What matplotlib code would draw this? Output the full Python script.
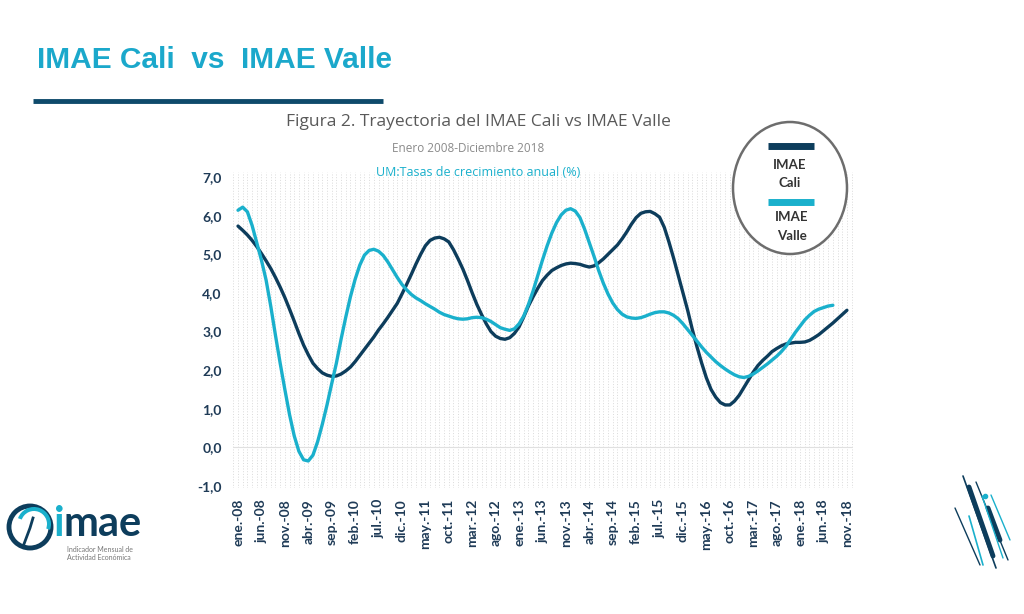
import matplotlib
matplotlib.use("Agg")
import matplotlib.pyplot as plt
from matplotlib.patches import Ellipse, Circle, Wedge
import numpy as np

# Monthly series, ene-2008 .. nov-2018
cali = [5.73, 5.62, 5.50, 5.36, 5.20, 5.02, 4.83, 4.63, 4.40, 4.15,
        3.88, 3.58, 3.27, 2.95, 2.65, 2.40, 2.18, 2.04, 1.93, 1.87,
        1.84, 1.85, 1.90, 1.98, 2.08, 2.22, 2.38, 2.54, 2.70, 2.86,
        3.04, 3.20, 3.37, 3.55, 3.73, 3.97, 4.22, 4.48, 4.75, 5.00,
        5.22, 5.36, 5.42, 5.44, 5.40, 5.32, 5.12, 4.88, 4.62, 4.32,
        4.00, 3.70, 3.44, 3.20, 3.00, 2.88, 2.82, 2.80, 2.84, 2.95,
        3.12, 3.38, 3.66, 3.90, 4.12, 4.32, 4.46, 4.58, 4.65, 4.71,
        4.75, 4.77, 4.76, 4.74, 4.70, 4.67, 4.70, 4.78, 4.88, 5.00,
        5.12, 5.24, 5.40, 5.58, 5.78, 5.95, 6.06, 6.10, 6.11, 6.05,
        5.96, 5.70, 5.32, 4.90, 4.45, 4.00, 3.55, 3.05, 2.60, 2.18,
        1.80, 1.50, 1.30, 1.16, 1.10, 1.10, 1.20, 1.35, 1.55, 1.75,
        1.95, 2.12, 2.25, 2.36, 2.48, 2.56, 2.63, 2.68, 2.70, 2.72,
        2.72, 2.73, 2.77, 2.84, 2.92, 3.02, 3.12, 3.22, 3.33, 3.44,
        3.55]

valle = [6.14, 6.22, 6.10, 5.75, 5.30, 4.85, 4.33, 3.65, 2.90, 2.18,
         1.50, 0.85, 0.30, -0.10, -0.32, -0.35, -0.20, 0.15, 0.60, 1.10,
         1.65, 2.18, 2.80, 3.37, 3.90, 4.35, 4.72, 4.98, 5.10, 5.13,
         5.08, 4.97, 4.80, 4.60, 4.40, 4.22, 4.08, 3.96, 3.87, 3.80,
         3.72, 3.65, 3.58, 3.50, 3.44, 3.40, 3.36, 3.33, 3.32, 3.33,
         3.36, 3.37, 3.36, 3.32, 3.26, 3.18, 3.10, 3.06, 3.03, 3.07,
         3.20, 3.40, 3.70, 4.05, 4.45, 4.85, 5.22, 5.55, 5.82, 6.02,
         6.14, 6.18, 6.12, 5.95, 5.65, 5.30, 4.95, 4.58, 4.25, 3.97,
         3.74, 3.57, 3.45, 3.38, 3.35, 3.34, 3.36, 3.40, 3.45, 3.49,
         3.51, 3.51, 3.48, 3.42, 3.33, 3.20, 3.05, 2.90, 2.75, 2.60,
         2.46, 2.34, 2.22, 2.12, 2.03, 1.95, 1.88, 1.83, 1.81, 1.84,
         1.90, 1.98, 2.07, 2.16, 2.26, 2.36, 2.48, 2.62, 2.80, 2.98,
         3.14, 3.30, 3.42, 3.52, 3.58, 3.62, 3.66, 3.68]

tick_labels = ["ene.-08", "jun.-08", "nov.-08", "abr.-09", "sep.-09", "feb.-10",
               "jul.-10", "dic.-10", "may.-11", "oct.-11", "mar.-12", "ago.-12",
               "ene.-13", "jun.-13", "nov.-13", "abr.-14", "sep.-14", "feb.-15",
               "jul.-15", "dic.-15", "may.-16", "oct.-16", "mar.-17", "ago.-17",
               "ene.-18", "jun.-18", "nov.-18"]
y_ticks = [-1, 0, 1, 2, 3, 4, 5, 6, 7]

NAVY = "#0d3d5c"
CYAN = "#1ab0cc"
LABEL = "#1f3b57"

fig = plt.figure(figsize=(10.24, 6.14), dpi=100)
fig.patch.set_facecolor("white")

# main chart
ax = fig.add_axes([233 / 1024, 1 - 488 / 614, 620 / 1024, 316 / 614])
ax.set_zorder(2)
x_c = np.arange(len(cali))
x_v = np.arange(len(valle))
ax.plot(x_c, cali, color=NAVY, lw=2.4, solid_capstyle="round", zorder=3)
ax.plot(x_v, valle, color=CYAN, lw=2.4, solid_capstyle="round", zorder=4)

ax.set_xlim(-1.07, 131.3)
ax.set_ylim(-1.05, 7.13)

# dotted background grid
for m in range(-1, 132):
    ax.axvline(m, color="#dadada", lw=0.7, ls=(0, (1, 1.8)), zorder=0)
ax.axhline(0, color="#e0e0e0", lw=0.8, zorder=1)

ax.set_xticks(np.arange(0, len(cali), 5))
ax.set_xticklabels(tick_labels, rotation=90, fontsize=10, fontweight="bold",
                   color=LABEL, family="Lato")
ax.set_yticks(y_ticks)
ax.set_yticklabels([f"{v:.1f}".replace(".", ",") for v in y_ticks], fontsize=10,
                   fontweight="bold", color=LABEL, family="Lato")
ax.tick_params(length=0, pad=8)
for s in ax.spines.values():
    s.set_visible(False)

# overlay for decorations, in pixel coordinates
ov = fig.add_axes([0, 0, 1, 1])
ov.set_xlim(0, 1024)
ov.set_ylim(614, 0)
ov.axis("off")
ov.set_zorder(3)
ov.patch.set_alpha(0)

ov.text(37, 60, "IMAE Cali  vs  IMAE Valle", fontsize=21.5, fontweight="bold",
        color="#1ba8cb", family="Liberation Sans", va="center", ha="left")
ov.plot([33, 383], [101, 101], color="#0e4a6b", lw=3.5, solid_capstyle="butt")

ov.text(478, 122, "Figura 2. Trayectoria del IMAE Cali vs IMAE Valle", fontsize=12.5,
        color="#595959", family="Open Sans", ha="center", va="center")
ov.text(468, 148, "Enero 2008-Diciembre 2018", fontsize=8.5, color="#8a8a8a",
        family="Open Sans", ha="center", va="center")
ov.text(478, 172, "UM:Tasas de crecimiento anual (%)", fontsize=9, color=CYAN,
        family="Open Sans", ha="center", va="center")

# legend in an ellipse
ov.add_patch(Ellipse((790, 188), 114, 132, facecolor="white", edgecolor="#6d6d6d", lw=1.8))
ov.plot([768, 814], [145.5, 145.5], color=NAVY, lw=5, solid_capstyle="butt")
ov.text(790, 165, "IMAE", fontsize=9.5, fontweight="bold", color="#333333",
        family="Lato", ha="center", va="center")
ov.text(790, 183, "Cali", fontsize=9.5, fontweight="bold", color="#333333",
        family="Lato", ha="center", va="center")
ov.plot([768, 814], [201.5, 201.5], color=CYAN, lw=5, solid_capstyle="butt")
ov.text(792, 217, "IMAE", fontsize=9.5, fontweight="bold", color="#333333",
        family="Lato", ha="center", va="center")
ov.text(792, 236, "Valle", fontsize=9.5, fontweight="bold", color="#333333",
        family="Lato", ha="center", va="center")

# logo bottom-left
ov.add_patch(Circle((30, 527), 21, facecolor="white", edgecolor=NAVY, lw=3.5))
ov.add_patch(Wedge((34, 524), 17, 200, 20, width=4, facecolor=CYAN, edgecolor="none"))
ov.plot([24, 30, 33], [544, 528, 518], color=NAVY, lw=2)
ov.text(54, 524, "i", fontsize=30, fontweight="bold", color=CYAN, family="Lato",
        va="center", ha="left")
ov.text(64, 524, "mae", fontsize=30, fontweight="bold", color=NAVY, family="Lato",
        va="center", ha="left")
ov.text(67, 550, "Indicador Mensual de", fontsize=5, color="#777777", family="Lato",
        va="center", ha="left")
ov.text(67, 558, "Actividad Económica", fontsize=5, color="#777777", family="Lato",
        va="center", ha="left")

# stripes bottom-right
stripes = [((963, 476), (996, 568), NAVY, 1.2), ((969, 487), (993, 556), NAVY, 3.5),
           ((955, 508), (980, 565), NAVY, 1.0), ((976, 482), (1008, 560), NAVY, 1.0),
           ((988, 508), (1000, 540), NAVY, 3.5), ((969, 516), (983, 565), CYAN, 1.2),
           ((982, 496), (1003, 558), CYAN, 1.0), ((991, 495), (1010, 540), CYAN, 1.0)]
for (x1, y1), (x2, y2), c, w in stripes:
    ov.plot([x1, x2], [y1, y2], color=c, lw=w, solid_capstyle="round")
ov.plot([985], [496], "o", color=CYAN, ms=3)

fig.savefig("out.png", dpi=100)
